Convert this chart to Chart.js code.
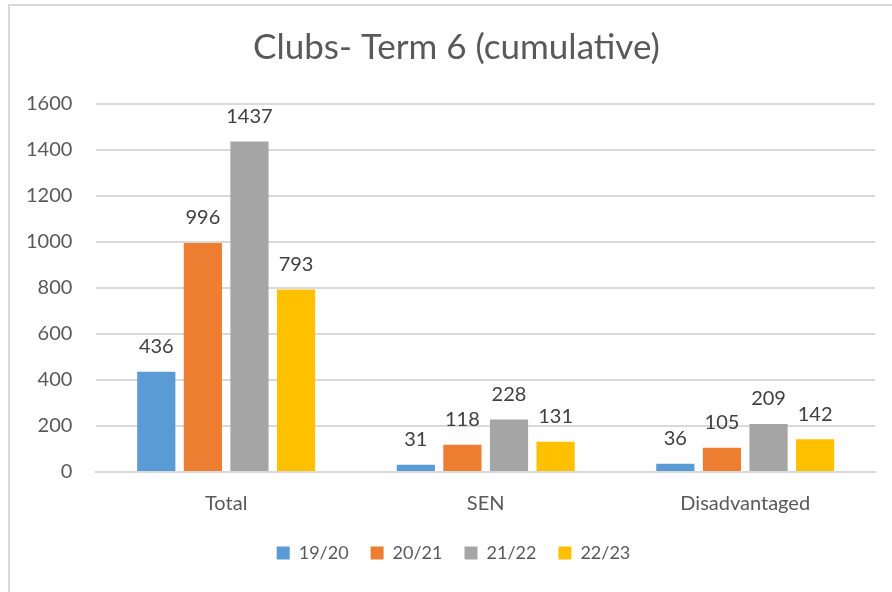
<!DOCTYPE html>
<html>
<head>
<meta charset="utf-8">
<script src="https://cdn.jsdelivr.net/npm/chart.js@4"></script>
<style>
  html, body { margin: 0; padding: 0; background: #fff; }
  #frame { position: absolute; left: 8px; top: 4px; width: 884px; height: 588px;
           border-top: 2px solid #d9d9d9; border-left: 2px solid #d9d9d9; }
  #wrap { position: absolute; left: 0; top: 0; width: 892px; height: 592px; }
</style>
</head>
<body>
<div id="frame"></div>
<div id="wrap"><canvas id="myBar"></canvas></div>
<script>
var categories = ["Total", "SEN", "Disadvantaged"];
var seriesNames = ["19/20", "20/21", "21/22", "22/23"];
var values1920 = [436, 31, 36];
var values2021 = [996, 118, 105];
var values2122 = [1437, 228, 209];
var values2223 = [793, 131, 142];
var colours = ["#5b9bd5", "#ed7d31", "#a5a5a5", "#ffc000"];

var fontName = "Lato, 'Open Sans', sans-serif";

// draws the value above each bar
var valueLabels = {
  id: "valueLabels",
  afterDatasetsDraw: function(chart) {
    var ctx = chart.ctx;
    ctx.save();
    ctx.font = "20px " + fontName;
    ctx.fillStyle = "#404040";
    ctx.textAlign = "center";
    ctx.textBaseline = "bottom";
    chart.data.datasets.forEach(function(ds, i) {
      chart.getDatasetMeta(i).data.forEach(function(bar, j) {
        ctx.fillText(ds.data[j], bar.x, bar.y - 15);
      });
    });
    ctx.restore();
  }
};

// title and legend sit a bit right of the canvas centre in the original
var nudgeBlocks = {
  id: "nudgeBlocks",
  afterLayout: function(chart) {
    var t = chart.titleBlock, l = chart.legend;
    if (t) { t.left += 18; t.right += 18; }
    if (l) { l.left += 15; l.right += 15; l.top -= 14; l.bottom -= 14; }
  }
};

var ctxBar = document.getElementById("myBar");
var myBarChart = new Chart(ctxBar, {
  type: "bar",
  data: {
    labels: categories,
    datasets: [
      { label: seriesNames[0], data: values1920, backgroundColor: colours[0] },
      { label: seriesNames[1], data: values2021, backgroundColor: colours[1] },
      { label: seriesNames[2], data: values2122, backgroundColor: colours[2] },
      { label: seriesNames[3], data: values2223, backgroundColor: colours[3] }
    ]
  },
  options: {
    responsive: true,
    maintainAspectRatio: false,
    animation: false,
    datasets: { bar: { categoryPercentage: 0.718, barPercentage: 0.82 } },
    layout: { padding: { left: 2, right: 17, top: 27, bottom: 6 } },
    plugins: {
      title: {
        display: true,
        text: "Clubs- Term 6 (cumulative)",
        color: "#595959",
        font: { family: fontName, size: 35, weight: "normal" },
        padding: { top: 0, bottom: 35 }
      },
      legend: {
        position: "bottom",
        labels: {
          boxWidth: 13, boxHeight: 13, padding: 22,
          color: "#595959",
          font: { family: fontName, size: 18 }
        }
      },
      tooltip: { enabled: false }
    },
    scales: {
      x: {
        grid: { display: false, drawTicks: false },
        border: { display: true, color: "#d9d9d9", width: 2 },
        ticks: { color: "#595959", font: { family: fontName, size: 20 }, padding: 20 }
      },
      y: {
        min: 0, max: 1600,
        grid: { color: "#d9d9d9", lineWidth: 2, drawTicks: false },
        border: { display: false },
        ticks: {
          stepSize: 200, color: "#595959", font: { family: fontName, size: 20 }, padding: 24,
          callback: function(v) { return String(v); }
        }
      }
    }
  },
  plugins: [valueLabels, nudgeBlocks]
});
</script>
</body>
</html>
